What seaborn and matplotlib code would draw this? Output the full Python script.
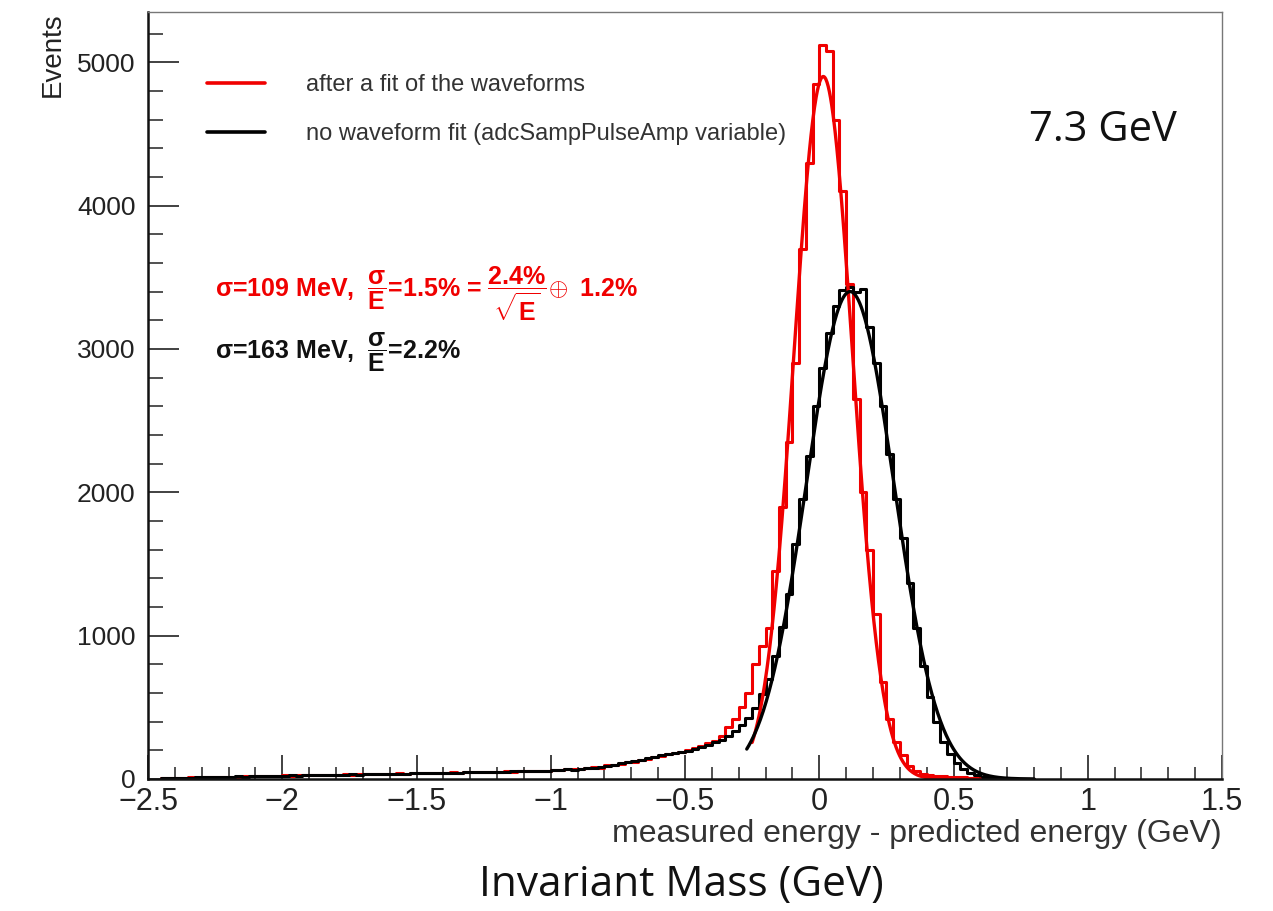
import numpy as np
import pandas as pd
import matplotlib
matplotlib.use("Agg")
import matplotlib.pyplot as plt
from matplotlib.ticker import MultipleLocator, FixedLocator, FixedFormatter
from matplotlib.lines import Line2D
import seaborn as sns

# ---- histogram binning (GeV) ----
bin_width = 0.025
first_edge = -2.45

# events per bin, "no waveform fit (adcSampPulseAmp variable)"
black_counts = [
    6, 8, 9, 10, 9, 12, 11, 13, 14, 13,
    16, 18, 17, 20, 19, 22, 21, 24, 23, 25,
    24, 27, 26, 28, 27, 30, 29, 31, 32, 30,
    33, 34, 36, 35, 37, 38, 37, 40, 39, 41,
    43, 42, 44, 45, 44, 47, 46, 48, 50, 49,
    52, 51, 54, 53, 56, 55, 58, 57,
    62, 65, 68, 66, 72, 76, 80, 84, 92, 98,
    110, 118, 125, 132, 143, 152, 165, 172, 180, 188,
    196, 212, 226, 240, 255, 272, 300, 332, 375, 425,
    495, 590, 700, 860, 1060, 1290, 1640, 1950, 2250, 2600,
    2870, 3110, 3300, 3410, 3430, 3400, 3420, 3150, 2900, 2600,
    2270, 1950, 1680, 1370, 1050, 790, 570, 400, 260, 175,
    110, 70, 42, 26, 15, 9, 6, 4, 3, 2,
    1, 1,
]

# events per bin, "after a fit of the waveforms"
red_counts = [
    5, 7, 10, 9, 11, 10, 12, 14, 12, 15,
    15, 17, 19, 18, 21, 20, 23, 22, 25, 24,
    26, 25, 28, 27, 29, 31, 28, 32, 31, 33,
    32, 35, 34, 37, 36, 39, 38, 39, 41, 40,
    42, 44, 43, 46, 45, 46, 48, 47, 49, 51,
    50, 53, 52, 55, 54, 57, 56, 59,
    60, 63, 70, 68, 70, 78, 82, 80, 95, 100,
    108, 120, 122, 135, 140, 155, 162, 175, 178, 190,
    200, 215, 232, 250, 268, 300, 360, 420, 500, 600,
    800, 930, 1050, 1450, 1900, 2350, 2900, 3700, 4300, 4850,
    5120, 5080, 4600, 4100, 3450, 2650, 2000, 1600, 1150, 680,
    420, 260, 170, 90, 55, 35, 25, 20, 18, 16,
    14, 12, 10, 8, 6, 4, 3, 2, 1, 1,
    0, 0,
]

# Gaussian fit parameters: amplitude (events), mean (GeV), sigma (GeV), fit range (GeV)
red_fit = {"amp": 4900, "mean": 0.015, "sigma": 0.109, "lo": -0.25, "hi": 0.60}
black_fit = {"amp": 3400, "mean": 0.115, "sigma": 0.163, "lo": -0.27, "hi": 0.80}

legend_labels = ["after a fit of the waveforms",
                 "no waveform fit (adcSampPulseAmp variable)"]

xtick_values = [-2.5, -2, -1.5, -1, -0.5, 0, 0.5, 1, 1.5]
xtick_labels = ["\u22122.5", "\u22122", "\u22121.5", "\u22121", "\u22120.5",
                "0", "0.5", "1", "1.5"]
ytick_values = [0, 1000, 2000, 3000, 4000, 5000]
ytick_labels = ["0", "1000", "2000", "3000", "4000", "5000"]

RED = "#f00000"
BLACK = "#000000"

sns.set_style("white")
plt.rcParams["font.family"] = ["Liberation Sans", "DejaVu Sans"]
plt.rcParams["mathtext.fontset"] = "custom"
plt.rcParams["mathtext.rm"] = "Liberation Sans:bold"
plt.rcParams["mathtext.it"] = "Liberation Sans:bold"
plt.rcParams["mathtext.bf"] = "Liberation Sans:bold"
plt.rcParams["mathtext.sf"] = "Liberation Sans:bold"

fig = plt.figure(figsize=(12.73, 9.11), dpi=100)
ax = fig.add_axes([148 / 1273, 1 - 779 / 911, 1074 / 1273, 767 / 911])

n_bins = len(black_counts)
edges = first_edge + bin_width * np.arange(n_bins + 1)
centers = 0.5 * (edges[:-1] + edges[1:])
hist_df = pd.DataFrame({"x": centers,
                        "black": np.asarray(black_counts, dtype=float),
                        "red": np.asarray(red_counts, dtype=float)})
hist_range = (float(edges[0]), float(edges[-1]))

sns.histplot(data=hist_df, x="x", weights="red", binwidth=bin_width,
             binrange=hist_range, element="step", fill=False, color=RED,
             linewidth=2.2, ax=ax)
sns.histplot(data=hist_df, x="x", weights="black", binwidth=bin_width,
             binrange=hist_range, element="step", fill=False, color=BLACK,
             linewidth=2.2, ax=ax)


def gauss_curve(p, n=400):
    xs = np.linspace(p["lo"], p["hi"], n)
    ys = p["amp"] * np.exp(-0.5 * ((xs - p["mean"]) / p["sigma"]) ** 2)
    return xs, ys


xr, yr = gauss_curve(red_fit)
sns.lineplot(x=xr, y=yr, color=RED, linewidth=2.4, ax=ax)
xb, yb = gauss_curve(black_fit)
sns.lineplot(x=xb, y=yb, color=BLACK, linewidth=2.4, ax=ax)

ax.set_xlim(-2.5, 1.5)
ax.set_ylim(0, 5350)

# axes frame in the ROOT style
for side in ("left", "bottom"):
    ax.spines[side].set_color("#111111")
    ax.spines[side].set_linewidth(1.8)
for side in ("top", "right"):
    ax.spines[side].set_color("#777777")
    ax.spines[side].set_linewidth(1.0)

ax.xaxis.set_major_locator(FixedLocator(xtick_values))
ax.xaxis.set_major_formatter(FixedFormatter(xtick_labels))
ax.xaxis.set_minor_locator(MultipleLocator(0.1))
ax.yaxis.set_major_locator(FixedLocator(ytick_values))
ax.yaxis.set_major_formatter(FixedFormatter(ytick_labels))
ax.yaxis.set_minor_locator(MultipleLocator(200))
ax.tick_params(axis="both", which="both", bottom=True, left=True,
               top=False, right=False)
ax.tick_params(axis="x", which="major", direction="in", length=17,
               width=1.3, color="#333333")
ax.tick_params(axis="x", which="minor", direction="in", length=9,
               width=1.2, color="#333333")
ax.tick_params(axis="y", which="major", direction="in", length=22,
               width=1.3, color="#333333")
ax.tick_params(axis="y", which="minor", direction="in", length=11,
               width=1.2, color="#333333")
ax.tick_params(axis="x", which="major", labelsize=22, pad=6,
               labelcolor="#222222")
ax.tick_params(axis="y", which="major", labelsize=19, pad=9,
               labelcolor="#222222")

ax.set_xlabel("measured energy - predicted energy (GeV)", loc="right",
              fontsize=23, color="#333333", labelpad=1)
ax.set_ylabel("Events", loc="top", fontsize=20, color="#222222", labelpad=8)

handles = [Line2D([], [], color=RED, linewidth=2.6),
           Line2D([], [], color=BLACK, linewidth=2.6)]
ax.legend(handles, legend_labels, loc="upper left",
          bbox_to_anchor=(0.035, 0.947), frameon=False, fontsize=17,
          handlelength=2.45, handletextpad=1.75, labelspacing=1.15,
          labelcolor="#333333")

ax.text(0.062, 0.632,
        r"$\sigma$=109 MeV,  $\dfrac{\sigma}{E}$=1.5% = $\dfrac{2.4\%}{\sqrt{E}}\!\oplus$ 1.2%",
        transform=ax.transAxes, color=RED, fontsize=18, fontweight="bold",
        va="center", ha="left")
ax.text(0.062, 0.556, r"$\sigma$=163 MeV,  $\dfrac{\sigma}{E}$=2.2%",
        transform=ax.transAxes, color="#111111", fontsize=18,
        fontweight="bold", va="center", ha="left")

fig.text(1103 / 1273, 1 - 130 / 911, "7.3 GeV", fontsize=30,
         family=["Open Sans", "DejaVu Sans"], ha="center", va="center",
         color="#111111")
fig.text(681 / 1273, 1 - 885 / 911, "Invariant Mass (GeV)", fontsize=30.5,
         family=["Open Sans", "DejaVu Sans"], ha="center", va="center",
         color="#111111")

fig.savefig("out.png", dpi=100, facecolor="white")
